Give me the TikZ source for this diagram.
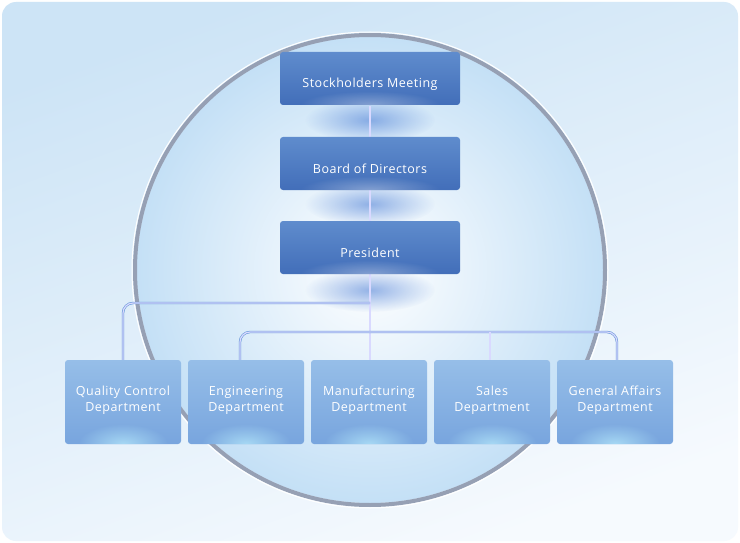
\documentclass[tikz,border=0pt]{standalone}
\usepackage{fontspec}
\setmainfont{Open Sans}[LetterSpace=4]
\usetikzlibrary{fadings}
\tikzfading[name=glow, inner color=transparent!0, outer color=transparent!100]
\begin{document}
\begin{tikzpicture}[x=1pt,y=-1pt,
  ttext/.style={text=white,font=\fontsize{12.5}{16}\selectfont,align=center},
  conn/.style={draw=connc,double=white!85!blue,double distance=1.2pt,line width=0.6pt,rounded corners=10pt}]
\definecolor{bgA}{RGB}{205,228,246}
\definecolor{bgB}{RGB}{246,250,254}
\definecolor{circA}{RGB}{196,224,246}
\definecolor{topA}{RGB}{95,140,205}
\definecolor{topB}{RGB}{66,110,185}
\definecolor{botA}{RGB}{150,190,232}
\definecolor{botB}{RGB}{120,165,222}
\definecolor{ring}{RGB}{150,160,180}
\definecolor{glowc}{RGB}{80,130,215}
\definecolor{connc}{RGB}{100,150,215}
\useasboundingbox (0,0) rectangle (740,543);
\fill[white] (0,0) rectangle (740,543);
\shade[rounded corners=14pt,top color=bgA,bottom color=bgB,shading angle=20] (2,2) rectangle (738,541);
% circle
\shade[inner color=white,outer color=circA] (370,270) circle (233);
\draw[ring,line width=4pt] (370,270) circle (235);
\draw[white,line width=1pt] (370,270) circle (238);
% glows
\foreach \y in {120,204,290}
  \fill[glowc,path fading=glow,opacity=0.6] (370,\y) ellipse (65 and 22);
% connectors
\draw[conn] (370,106) -- (370,137);
\draw[conn] (370,190) -- (370,221);
\draw[conn] (370,274) -- (370,360);
\draw[conn] (370,303) -- (123,303) -- (123,360);
\draw[conn] (240,360) -- (240,332) -- (617,332) -- (617,360);
\draw[conn] (490,332) -- (490,360);
% top boxes
\foreach \n/\y/\t in {sm/52/Stockholders Meeting,bd/137/Board of Directors,pr/221/President}{
  \shade[rounded corners=3pt,top color=topA,bottom color=topB] (280,\y) rectangle (460,\y+53);
  \begin{scope}
  \clip[rounded corners=3pt] (280,\y) rectangle (460,\y+53);
  \fill[white,path fading=glow,opacity=0.35] (370,\y+53) ellipse (70 and 14);
  \end{scope}
  \node[ttext] (\n) at (370,\y+32) {\t};
}
% bottom boxes
\foreach \n/\x/\t in {qc/65/Quality Control\\Department,en/188/Engineering\\Department,ma/311/Manufacturing\\Department,sa/434/Sales\\Department,ga/557/General Affairs\\Department}{
  \shade[rounded corners=3pt,top color=botA,bottom color=botB] (\x,360) rectangle (\x+116,444);
  \begin{scope}
  \clip[rounded corners=3pt] (\x,360) rectangle (\x+116,444);
  \fill[white!70!cyan,path fading=glow,opacity=0.8] (\x+58,444) ellipse (45 and 20);
  \end{scope}
  \node[ttext] (\n) at (\x+58,400) {\t};
}
\end{tikzpicture}
\end{document}
